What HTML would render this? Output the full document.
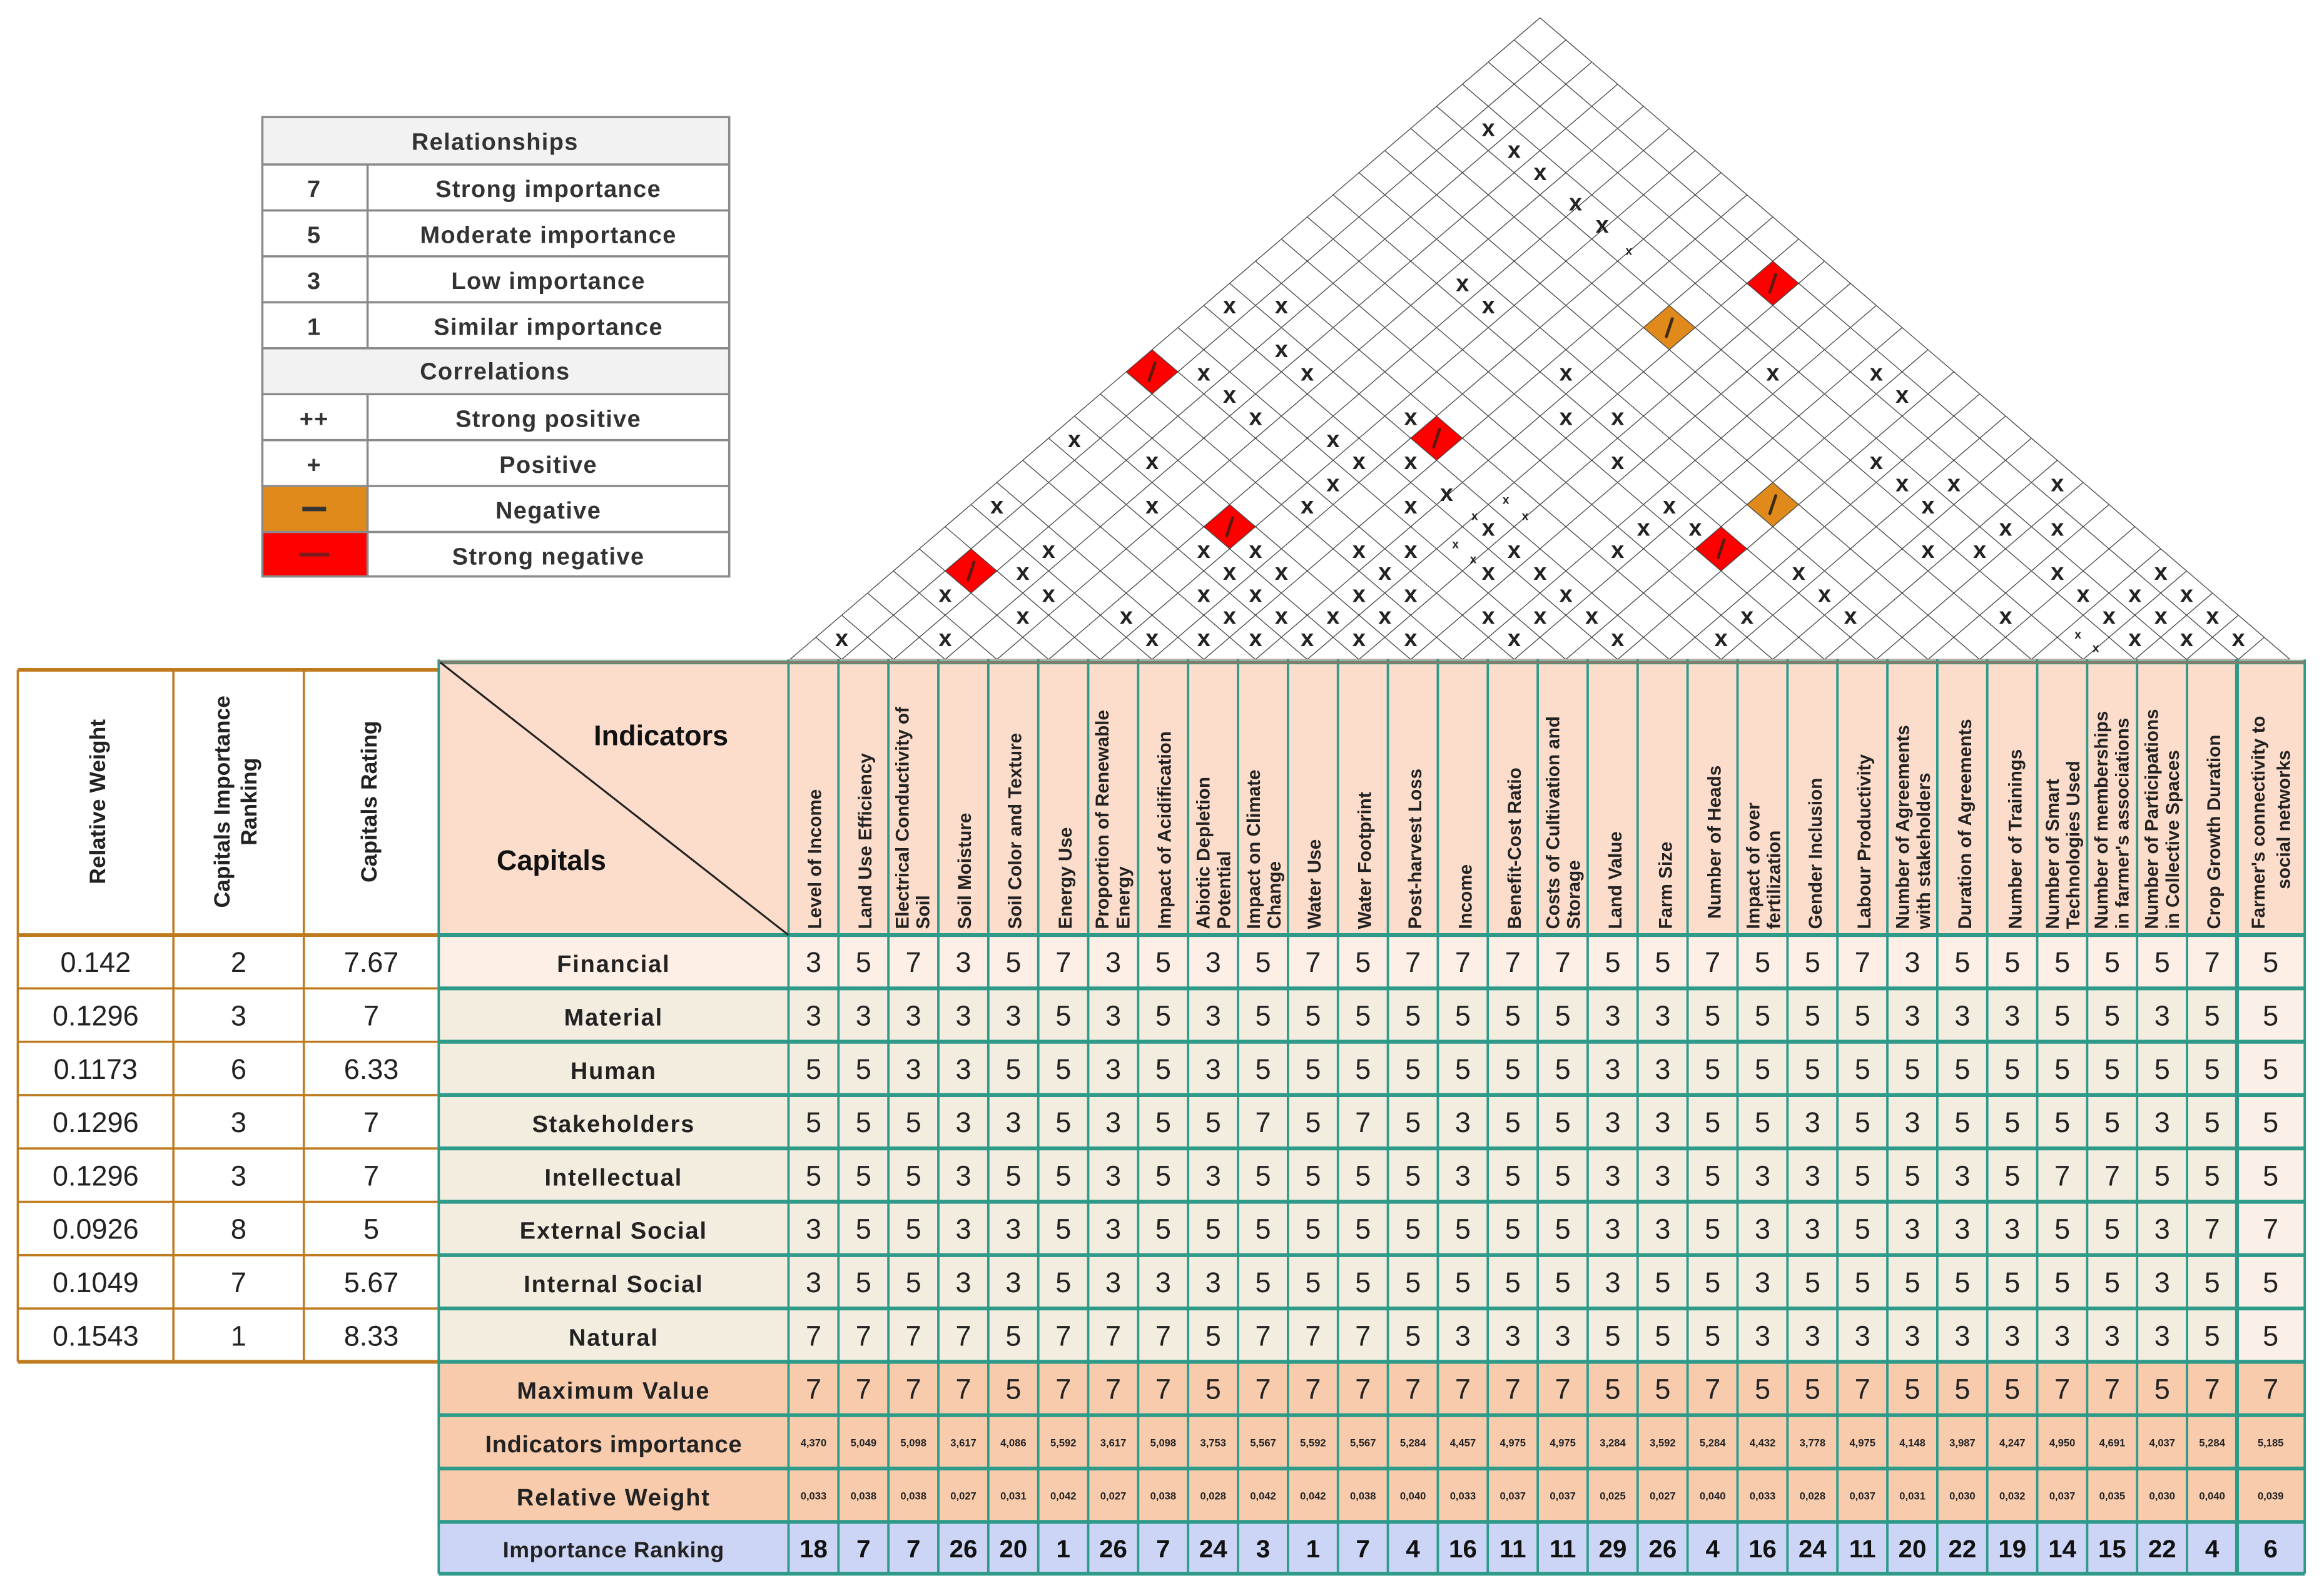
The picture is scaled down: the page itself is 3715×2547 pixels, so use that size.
<!DOCTYPE html>
<html><head><meta charset="utf-8"><style>
html,body{margin:0;padding:0;background:#fff}
svg{display:block}
text{font-family:"Liberation Sans",sans-serif}
.lg{font-weight:bold;font-size:16px;fill:#333;letter-spacing:0.6px;text-anchor:middle}
.rot{font-weight:bold;font-size:15px;fill:#222;text-anchor:middle}
.lv{font-size:19px;fill:#222;text-anchor:middle}
.cap{font-weight:bold;font-size:16px;fill:#222;text-anchor:middle;letter-spacing:0.8px}
.ind{font-weight:bold;font-size:12.5px;fill:#222}
.num{font-size:19px;fill:#222;text-anchor:middle}
.sm{font-weight:bold;font-size:7px;fill:#222;text-anchor:middle}
.rk{font-weight:bold;font-size:17px;fill:#111;text-anchor:middle}
.xm{font-weight:bold;font-size:16px;fill:#222;text-anchor:middle}
</style></head><body>
<svg width="3715" height="2547" viewBox="0 0 1568 1075" preserveAspectRatio="none" xmlns="http://www.w3.org/2000/svg">
<rect width="1568" height="1075" fill="#fff"/>

<!-- Legend -->
<g>
<rect x="177" y="79" width="315" height="32" fill="#f2f2f2"/>
<rect x="177" y="235" width="315" height="31" fill="#f2f2f2"/>
<rect x="177" y="328" width="71" height="31" fill="#e08a1c"/>
<rect x="177" y="359" width="71" height="30" fill="#ff0000"/>
<g stroke="#8a8a8a" stroke-width="1.5" fill="none">
<rect x="177" y="79" width="315" height="310"/>
<path d="M177 111H492M177 142H492M177 173H492M177 204H492M177 235H492M177 266H492M177 297H492M177 328H492M177 359H492M248 111V235M248 266V389"/>
</g>
<text class="lg" x="334" y="101">Relationships</text>
<text class="lg" x="212" y="133">7</text><text class="lg" x="370" y="133">Strong importance</text>
<text class="lg" x="212" y="164">5</text><text class="lg" x="370" y="164">Moderate importance</text>
<text class="lg" x="212" y="195">3</text><text class="lg" x="370" y="195">Low importance</text>
<text class="lg" x="212" y="226">1</text><text class="lg" x="370" y="226">Similar importance</text>
<text class="lg" x="334" y="256">Correlations</text>
<text class="lg" x="212" y="288">++</text><text class="lg" x="370" y="288">Strong positive</text>
<text class="lg" x="212" y="319">+</text><text class="lg" x="370" y="319">Positive</text>
<rect x="204" y="342" width="16" height="3" fill="#333"/><text class="lg" x="370" y="350">Negative</text>
<rect x="202" y="373" width="20" height="2.5" fill="#7a1a1a"/><text class="lg" x="370" y="381">Strong negative</text>
</g>

<!-- Roof -->
<g transform="translate(533,445) scale(17.45,-14.93)">
<g fill="#ff0000">
<polygon stroke="#b00" stroke-width="0.8" vector-effect="non-scaling-stroke" points="13,13 14,14 15,13 14,12"/>
<polygon stroke="#b00" stroke-width="0.8" vector-effect="non-scaling-stroke" points="24,10 25,11 26,10 25,9"/>
<polygon stroke="#b00" stroke-width="0.8" vector-effect="non-scaling-stroke" points="16,6 17,7 18,6 17,5"/>
<polygon stroke="#b00" stroke-width="0.8" vector-effect="non-scaling-stroke" points="6,4 7,5 8,4 7,3"/>
<polygon stroke="#b00" stroke-width="0.8" vector-effect="non-scaling-stroke" points="35,5 36,6 37,5 36,4"/>
<polygon stroke="#b00" stroke-width="0.8" vector-effect="non-scaling-stroke" points="37,17 38,18 39,17 38,16"/>
</g>
<g fill="#e08a1c">
<polygon stroke="#a86010" stroke-width="0.8" vector-effect="non-scaling-stroke" points="33,15 34,16 35,15 34,14"/>
<polygon stroke="#a86010" stroke-width="0.8" vector-effect="non-scaling-stroke" points="37,7 38,8 39,7 38,6"/>
</g>
<path fill="none" stroke="#444" stroke-width="1.3" vector-effect="non-scaling-stroke" d="M0 0H58
M0 0L29 29M2 0L30 28M4 0L31 27M6 0L32 26M8 0L33 25M10 0L34 24M12 0L35 23M14 0L36 22M16 0L37 21M18 0L38 20M20 0L39 19M22 0L40 18M24 0L41 17M26 0L42 16M28 0L43 15M30 0L44 14M32 0L45 13M34 0L46 12M36 0L47 11M38 0L48 10M40 0L49 9M42 0L50 8M44 0L51 7M46 0L52 6M48 0L53 5M50 0L54 4M52 0L55 3M54 0L56 2M56 0L57 1
M2 0L1 1M4 0L2 2M6 0L3 3M8 0L4 4M10 0L5 5M12 0L6 6M14 0L7 7M16 0L8 8M18 0L9 9M20 0L10 10M22 0L11 11M24 0L12 12M26 0L13 13M28 0L14 14M30 0L15 15M32 0L16 16M34 0L17 17M36 0L18 18M38 0L19 19M40 0L20 20M42 0L21 21M44 0L22 22M46 0L23 23M48 0L24 24M50 0L25 25M52 0L26 26M54 0L27 27M56 0L28 28M58 0L29 29"/>
</g>
<g stroke="#5a1a10" stroke-width="2" stroke-linecap="round" fill="none">
<path d="M775.3 256.9L779.3 244.9M967.3 301.7L971.3 289.7M827.7 361.4L831.7 349.4M653.2 391.3L657.2 379.3M1159.2 376.4L1163.2 364.4M1194.1 197.2L1198.1 185.2"/>
<path stroke="#3a2a10" d="M1124.3 227.1L1128.3 215.1M1194.1 346.5L1198.1 334.5"/>
</g>
<g>
<g class="xm">
<text class="xm" x="864.6" y="241.0">x</text>
<text class="xm" x="812.2" y="256.9">x</text>
<text class="xm" x="882.0" y="256.9">x</text>
<text class="xm" x="829.6" y="271.8">x</text>
<text class="xm" x="847.1" y="286.7">x</text>
<text class="xm" x="951.8" y="286.7">x</text>
<text class="xm" x="724.9" y="301.7">x</text>
<text class="xm" x="899.4" y="301.7">x</text>
<text class="xm" x="777.3" y="316.6">x</text>
<text class="xm" x="916.9" y="316.6">x</text>
<text class="xm" x="951.8" y="316.6">x</text>
<text class="xm" x="899.4" y="331.6">x</text>
<text class="xm" x="672.6" y="346.5">x</text>
<text class="xm" x="777.3" y="346.5">x</text>
<text class="xm" x="882.0" y="346.5">x</text>
<text class="xm" x="951.8" y="346.5">x</text>
<text class="xm" x="1004.2" y="361.4">x</text>
<text class="xm" x="707.5" y="376.4">x</text>
<text class="xm" x="812.2" y="376.4">x</text>
<text class="xm" x="847.1" y="376.4">x</text>
<text class="xm" x="916.9" y="376.4">x</text>
<text class="xm" x="951.8" y="376.4">x</text>
<text class="xm" x="1021.6" y="376.4">x</text>
<text class="xm" x="690.1" y="391.3">x</text>
<text class="xm" x="829.6" y="391.3">x</text>
<text class="xm" x="864.6" y="391.3">x</text>
<text class="xm" x="934.4" y="391.3">x</text>
<text class="xm" x="1004.2" y="391.3">x</text>
<text class="xm" x="1039.1" y="391.3">x</text>
<text class="xm" x="637.7" y="406.2">x</text>
<text class="xm" x="707.5" y="406.2">x</text>
<text class="xm" x="812.2" y="406.2">x</text>
<text class="xm" x="847.1" y="406.2">x</text>
<text class="xm" x="916.9" y="406.2">x</text>
<text class="xm" x="951.8" y="406.2">x</text>
<text class="xm" x="1056.5" y="406.2">x</text>
<text class="xm" x="690.1" y="421.1">x</text>
<text class="xm" x="759.9" y="421.1">x</text>
<text class="xm" x="829.6" y="421.1">x</text>
<text class="xm" x="864.6" y="421.1">x</text>
<text class="xm" x="899.4" y="421.1">x</text>
<text class="xm" x="934.4" y="421.1">x</text>
<text class="xm" x="1004.2" y="421.1">x</text>
<text class="xm" x="1039.1" y="421.1">x</text>
<text class="xm" x="567.9" y="436.1">x</text>
<text class="xm" x="637.7" y="436.1">x</text>
<text class="xm" x="777.3" y="436.1">x</text>
<text class="xm" x="812.2" y="436.1">x</text>
<text class="xm" x="847.1" y="436.1">x</text>
<text class="xm" x="882.0" y="436.1">x</text>
<text class="xm" x="916.9" y="436.1">x</text>
<text class="xm" x="951.8" y="436.1">x</text>
<text class="xm" x="1021.6" y="436.1">x</text>
<text class="xm" x="1056.5" y="286.7">x</text>
<text class="xm" x="1056.5" y="256.9">x</text>
<text class="xm" x="1196.1" y="256.9">x</text>
<text class="xm" x="1265.9" y="256.9">x</text>
<text class="xm" x="1283.4" y="271.8">x</text>
<text class="xm" x="1091.4" y="286.7">x</text>
<text class="xm" x="1091.4" y="316.6">x</text>
<text class="xm" x="1265.9" y="316.6">x</text>
<text class="xm" x="1283.4" y="331.6">x</text>
<text class="xm" x="1318.3" y="331.6">x</text>
<text class="xm" x="1388.1" y="331.6">x</text>
<text class="xm" x="1126.3" y="346.5">x</text>
<text class="xm" x="1300.8" y="346.5">x</text>
<text class="xm" x="1108.9" y="361.4">x</text>
<text class="xm" x="1143.8" y="361.4">x</text>
<text class="xm" x="1353.2" y="361.4">x</text>
<text class="xm" x="1388.1" y="361.4">x</text>
<text class="xm" x="1091.4" y="376.4">x</text>
<text class="xm" x="1300.8" y="376.4">x</text>
<text class="xm" x="1335.7" y="376.4">x</text>
<text class="xm" x="1213.6" y="391.3">x</text>
<text class="xm" x="1388.1" y="391.3">x</text>
<text class="xm" x="1457.9" y="391.3">x</text>
<text class="xm" x="1231.0" y="406.2">x</text>
<text class="xm" x="1405.5" y="406.2">x</text>
<text class="xm" x="1440.4" y="406.2">x</text>
<text class="xm" x="1475.3" y="406.2">x</text>
<text class="xm" x="1074.0" y="421.1">x</text>
<text class="xm" x="1178.7" y="421.1">x</text>
<text class="xm" x="1248.5" y="421.1">x</text>
<text class="xm" x="1353.2" y="421.1">x</text>
<text class="xm" x="1423.0" y="421.1">x</text>
<text class="xm" x="1457.9" y="421.1">x</text>
<text class="xm" x="1492.8" y="421.1">x</text>
<text class="xm" x="1091.4" y="436.1">x</text>
<text class="xm" x="1161.2" y="436.1">x</text>
<text class="xm" x="1440.4" y="436.1">x</text>
<text class="xm" x="1475.3" y="436.1">x</text>
<text class="xm" x="1510.2" y="436.1">x</text>
<text class="xm" x="1004.2" y="91.7">x</text>
<text class="xm" x="1021.6" y="106.6">x</text>
<text class="xm" x="1039.1" y="121.5">x</text>
<text class="xm" x="1063" y="142">x</text>
<text class="xm" x="1081" y="157">x</text>
<text class="xm" x="986.7" y="196.4">x</text>
<text class="xm" x="1004.2" y="211.4">x</text>
<text class="xm" x="829.6" y="211.4">x</text>
<text class="xm" x="864.6" y="211.4">x</text>
<text class="xm" x="976" y="338">x</text>
<text class="xm" x="1099" y="172" style="font-size:8px">x</text>
<text class="xm" x="1016" y="340" style="font-size:8px">x</text>
<text class="xm" x="995" y="351" style="font-size:8px">x</text>
<text class="xm" x="1029" y="351" style="font-size:8px">x</text>
<text class="xm" x="982" y="370" style="font-size:8px">x</text>
<text class="xm" x="994" y="380" style="font-size:8px">x</text>
<text class="xm" x="1402" y="431" style="font-size:8px">x</text>
<text class="xm" x="1414" y="440" style="font-size:8px">x</text>
</g>
</g>

<!-- Left table -->
<g>
<rect x="12" y="452" width="284" height="467" fill="#fff"/>
<g stroke="#c07a1e" fill="none">
<path stroke-width="2.5" d="M12 452H296M12 631H296M12 919H296"/>
<path stroke-width="1.5" d="M12 452V919M117 452V919M205 452V919M12 667H296M12 703H296M12 739H296M12 775H296M12 811H296M12 847H296M12 883H296"/>
</g>
<text class="rot" transform="translate(71,541) rotate(-90)">Relative Weight</text>
<text class="rot" transform="translate(155,541) rotate(-90)">Capitals Importance</text>
<text class="rot" transform="translate(173,541) rotate(-90)">Ranking</text>
<text class="rot" transform="translate(254,541) rotate(-90)">Capitals Rating</text>
<text class="lv" x="64.5" y="656">0.142</text><text class="lv" x="161" y="656">2</text><text class="lv" x="250.5" y="656">7.67</text>
<text class="lv" x="64.5" y="692">0.1296</text><text class="lv" x="161" y="692">3</text><text class="lv" x="250.5" y="692">7</text>
<text class="lv" x="64.5" y="728">0.1173</text><text class="lv" x="161" y="728">6</text><text class="lv" x="250.5" y="728">6.33</text>
<text class="lv" x="64.5" y="764">0.1296</text><text class="lv" x="161" y="764">3</text><text class="lv" x="250.5" y="764">7</text>
<text class="lv" x="64.5" y="800">0.1296</text><text class="lv" x="161" y="800">3</text><text class="lv" x="250.5" y="800">7</text>
<text class="lv" x="64.5" y="836">0.0926</text><text class="lv" x="161" y="836">8</text><text class="lv" x="250.5" y="836">5</text>
<text class="lv" x="64.5" y="872">0.1049</text><text class="lv" x="161" y="872">7</text><text class="lv" x="250.5" y="872">5.67</text>
<text class="lv" x="64.5" y="908">0.1543</text><text class="lv" x="161" y="908">1</text><text class="lv" x="250.5" y="908">8.33</text>
</g>

<!-- Main table backgrounds -->
<rect x="296" y="445" width="1259" height="186" fill="#fcdccb"/>
<rect x="296" y="631" width="1259" height="36" fill="#fdeee6"/>
<rect x="296" y="667" width="1259" height="252" fill="#f3eddf"/>
<rect x="1509" y="667" width="46" height="252" fill="#fbf0e8"/>
<rect x="296" y="919" width="1259" height="108" fill="#f8cbad"/>
<rect x="296" y="1027" width="1259" height="35" fill="#ccd5f5"/>
<g stroke="#2e9a8a" fill="none">
<path stroke-width="1.6" d="M296 445V1062M532 445V1062M565.7 445V1062M599.4 445V1062M633.1 445V1062M666.8 445V1062M700.5 445V1062M734.2 445V1062M767.9 445V1062M801.6 445V1062M835.3 445V1062M869 445V1062M902.7 445V1062M936.4 445V1062M970.1 445V1062M1003.8 445V1062M1037.5 445V1062M1071.2 445V1062M1104.9 445V1062M1138.6 445V1062M1172.3 445V1062M1206 445V1062M1239.7 445V1062M1273.4 445V1062M1307.1 445V1062M1340.8 445V1062M1374.5 445V1062M1408.2 445V1062M1441.9 445V1062M1475.6 445V1062M1555 445V1062"/>
<path stroke-width="2.6" d="M1509.3 445V1062M296 447H1555M296 631H1555M296 667H1555M296 703H1555M296 739H1555M296 775H1555M296 811H1555M296 847H1555M296 883H1555M296 919H1555M296 955H1555M296 991H1555M296 1027H1555M296 1062H1555"/>
</g>
<path d="M296 447H1555" stroke="#8a7a6a" stroke-width="1.5"/>
<line x1="297" y1="447" x2="532" y2="631" stroke="#222" stroke-width="1.3"/>
<text x="446" y="503" style="font-weight:bold;font-size:19px;fill:#111" text-anchor="middle">Indicators</text>
<text x="372" y="587" style="font-weight:bold;font-size:19px;fill:#111" text-anchor="middle">Capitals</text>

<!-- Indicator labels -->
<g class="ind">
<text transform="translate(554,627) rotate(-90)">Level of Income</text>
<text transform="translate(588,627) rotate(-90)">Land Use Efficiency</text>
<text transform="translate(613,627) rotate(-90)">Electrical Conductivity of</text>
<text transform="translate(627,627) rotate(-90)">Soil</text>
<text transform="translate(655,627) rotate(-90)">Soil Moisture</text>
<text transform="translate(689,627) rotate(-90)">Soil Color and Texture</text>
<text transform="translate(723,627) rotate(-90)">Energy Use</text>
<text transform="translate(748,627) rotate(-90)">Proportion of Renewable</text>
<text transform="translate(762,627) rotate(-90)">Energy</text>
<text transform="translate(790,627) rotate(-90)">Impact of Acidification</text>
<text transform="translate(816,627) rotate(-90)">Abiotic Depletion</text>
<text transform="translate(830,627) rotate(-90)">Potential</text>
<text transform="translate(850,627) rotate(-90)">Impact on Climate</text>
<text transform="translate(864,627) rotate(-90)">Change</text>
<text transform="translate(891,627) rotate(-90)">Water Use</text>
<text transform="translate(925,627) rotate(-90)">Water Footprint</text>
<text transform="translate(959,627) rotate(-90)">Post-harvest Loss</text>
<text transform="translate(993,627) rotate(-90)">Income</text>
<text transform="translate(1026,627) rotate(-90)">Benefit-Cost Ratio</text>
<text transform="translate(1052,627) rotate(-90)">Costs of Cultivation and</text>
<text transform="translate(1066,627) rotate(-90)">Storage</text>
<text transform="translate(1094,627) rotate(-90)">Land Value</text>
<text transform="translate(1128,627) rotate(-90)">Farm Size</text>
<text transform="translate(1161,620) rotate(-90)">Number of Heads</text>
<text transform="translate(1187,627) rotate(-90)">Impact of over</text>
<text transform="translate(1201,627) rotate(-90)">fertilization</text>
<text transform="translate(1229,627) rotate(-90)">Gender Inclusion</text>
<text transform="translate(1262,627) rotate(-90)">Labour Productivity</text>
<text transform="translate(1288,627) rotate(-90)">Number of Agreements</text>
<text transform="translate(1302,627) rotate(-90)">with stakeholders</text>
<text transform="translate(1330,627) rotate(-90)">Duration of Agreements</text>
<text transform="translate(1364,627) rotate(-90)">Number of Trainings</text>
<text transform="translate(1389,627) rotate(-90)">Number of Smart</text>
<text transform="translate(1403,627) rotate(-90)">Technologies Used</text>
<text transform="translate(1422,627) rotate(-90)">Number of memberships</text>
<text transform="translate(1436,627) rotate(-90)">in farmer's associations</text>
<text transform="translate(1456,627) rotate(-90)">Number of Participations</text>
<text transform="translate(1470,627) rotate(-90)">in Collective Spaces</text>
<text transform="translate(1498,627) rotate(-90)">Crop Growth Duration</text>
<text transform="translate(1528,627) rotate(-90)">Farmer's connectivity to</text>
<text transform="translate(1545,600) rotate(-90)">social networks</text>
</g>

<!-- Capitals names -->
<text class="cap" x="414" y="656">Financial</text>
<text class="cap" x="414" y="692">Material</text>
<text class="cap" x="414" y="728">Human</text>
<text class="cap" x="414" y="764">Stakeholders</text>
<text class="cap" x="414" y="800">Intellectual</text>
<text class="cap" x="414" y="836">External Social</text>
<text class="cap" x="414" y="872">Internal Social</text>
<text class="cap" x="414" y="908">Natural</text>
<text class="cap" x="414" y="944">Maximum Value</text>
<text class="cap" x="414" y="980" style="letter-spacing:0.3px">Indicators importance</text>
<text class="cap" x="414" y="1016">Relative Weight</text>
<text class="cap" x="414" y="1051" style="font-size:15px;letter-spacing:0.3px">Importance Ranking</text>

<!-- Numbers -->
<g class="num">
<text class="num" y="656" x="548.9 582.6 616.3 650.0 683.7 717.4 751.1 784.8 818.5 852.2 885.9 919.6 953.3 987.0 1020.7 1054.4 1088.1 1121.8 1155.5 1189.2 1222.9 1256.6 1290.3 1324.0 1357.7 1391.4 1425.1 1458.8 1492.5 1532">357357353575777755755735555575</text>
<text class="num" y="692" x="548.9 582.6 616.3 650.0 683.7 717.4 751.1 784.8 818.5 852.2 885.9 919.6 953.3 987.0 1020.7 1054.4 1088.1 1121.8 1155.5 1189.2 1222.9 1256.6 1290.3 1324.0 1357.7 1391.4 1425.1 1458.8 1492.5 1532">333335353555555533555533355355</text>
<text class="num" y="728" x="548.9 582.6 616.3 650.0 683.7 717.4 751.1 784.8 818.5 852.2 885.9 919.6 953.3 987.0 1020.7 1054.4 1088.1 1121.8 1155.5 1189.2 1222.9 1256.6 1290.3 1324.0 1357.7 1391.4 1425.1 1458.8 1492.5 1532">553355353555555533555555555555</text>
<text class="num" y="764" x="548.9 582.6 616.3 650.0 683.7 717.4 751.1 784.8 818.5 852.2 885.9 919.6 953.3 987.0 1020.7 1054.4 1088.1 1121.8 1155.5 1189.2 1222.9 1256.6 1290.3 1324.0 1357.7 1391.4 1425.1 1458.8 1492.5 1532">555335355757535533553535555355</text>
<text class="num" y="800" x="548.9 582.6 616.3 650.0 683.7 717.4 751.1 784.8 818.5 852.2 885.9 919.6 953.3 987.0 1020.7 1054.4 1088.1 1121.8 1155.5 1189.2 1222.9 1256.6 1290.3 1324.0 1357.7 1391.4 1425.1 1458.8 1492.5 1532">555355353555535533533553577555</text>
<text class="num" y="836" x="548.9 582.6 616.3 650.0 683.7 717.4 751.1 784.8 818.5 852.2 885.9 919.6 953.3 987.0 1020.7 1054.4 1088.1 1121.8 1155.5 1189.2 1222.9 1256.6 1290.3 1324.0 1357.7 1391.4 1425.1 1458.8 1492.5 1532">355335355555555533533533355377</text>
<text class="num" y="872" x="548.9 582.6 616.3 650.0 683.7 717.4 751.1 784.8 818.5 852.2 885.9 919.6 953.3 987.0 1020.7 1054.4 1088.1 1121.8 1155.5 1189.2 1222.9 1256.6 1290.3 1324.0 1357.7 1391.4 1425.1 1458.8 1492.5 1532">355335333555555535535555555355</text>
<text class="num" y="908" x="548.9 582.6 616.3 650.0 683.7 717.4 751.1 784.8 818.5 852.2 885.9 919.6 953.3 987.0 1020.7 1054.4 1088.1 1121.8 1155.5 1189.2 1222.9 1256.6 1290.3 1324.0 1357.7 1391.4 1425.1 1458.8 1492.5 1532">777757775777533355533333333355</text>
<text class="num" y="944" x="548.9 582.6 616.3 650.0 683.7 717.4 751.1 784.8 818.5 852.2 885.9 919.6 953.3 987.0 1020.7 1054.4 1088.1 1121.8 1155.5 1189.2 1222.9 1256.6 1290.3 1324.0 1357.7 1391.4 1425.1 1458.8 1492.5 1532">777757775777777755755755577577</text>
</g>
<g class="sm">
<text class="sm" x="548.9" y="976">4,370</text><text class="sm" x="582.6" y="976">5,049</text><text class="sm" x="616.3" y="976">5,098</text><text class="sm" x="650.0" y="976">3,617</text><text class="sm" x="683.7" y="976">4,086</text><text class="sm" x="717.4" y="976">5,592</text><text class="sm" x="751.1" y="976">3,617</text><text class="sm" x="784.8" y="976">5,098</text><text class="sm" x="818.5" y="976">3,753</text><text class="sm" x="852.2" y="976">5,567</text><text class="sm" x="885.9" y="976">5,592</text><text class="sm" x="919.6" y="976">5,567</text><text class="sm" x="953.3" y="976">5,284</text><text class="sm" x="987.0" y="976">4,457</text><text class="sm" x="1020.7" y="976">4,975</text><text class="sm" x="1054.4" y="976">4,975</text><text class="sm" x="1088.1" y="976">3,284</text><text class="sm" x="1121.8" y="976">3,592</text><text class="sm" x="1155.5" y="976">5,284</text><text class="sm" x="1189.2" y="976">4,432</text><text class="sm" x="1222.9" y="976">3,778</text><text class="sm" x="1256.6" y="976">4,975</text><text class="sm" x="1290.3" y="976">4,148</text><text class="sm" x="1324.0" y="976">3,987</text><text class="sm" x="1357.7" y="976">4,247</text><text class="sm" x="1391.4" y="976">4,950</text><text class="sm" x="1425.1" y="976">4,691</text><text class="sm" x="1458.8" y="976">4,037</text><text class="sm" x="1492.5" y="976">5,284</text><text class="sm" x="1532" y="976">5,185</text>
<text class="sm" x="548.9" y="1012">0,033</text><text class="sm" x="582.6" y="1012">0,038</text><text class="sm" x="616.3" y="1012">0,038</text><text class="sm" x="650.0" y="1012">0,027</text><text class="sm" x="683.7" y="1012">0,031</text><text class="sm" x="717.4" y="1012">0,042</text><text class="sm" x="751.1" y="1012">0,027</text><text class="sm" x="784.8" y="1012">0,038</text><text class="sm" x="818.5" y="1012">0,028</text><text class="sm" x="852.2" y="1012">0,042</text><text class="sm" x="885.9" y="1012">0,042</text><text class="sm" x="919.6" y="1012">0,038</text><text class="sm" x="953.3" y="1012">0,040</text><text class="sm" x="987.0" y="1012">0,033</text><text class="sm" x="1020.7" y="1012">0,037</text><text class="sm" x="1054.4" y="1012">0,037</text><text class="sm" x="1088.1" y="1012">0,025</text><text class="sm" x="1121.8" y="1012">0,027</text><text class="sm" x="1155.5" y="1012">0,040</text><text class="sm" x="1189.2" y="1012">0,033</text><text class="sm" x="1222.9" y="1012">0,028</text><text class="sm" x="1256.6" y="1012">0,037</text><text class="sm" x="1290.3" y="1012">0,031</text><text class="sm" x="1324.0" y="1012">0,030</text><text class="sm" x="1357.7" y="1012">0,032</text><text class="sm" x="1391.4" y="1012">0,037</text><text class="sm" x="1425.1" y="1012">0,035</text><text class="sm" x="1458.8" y="1012">0,030</text><text class="sm" x="1492.5" y="1012">0,040</text><text class="sm" x="1532" y="1012">0,039</text>
</g>
<g class="rk">
<text class="rk" x="548.9" y="1051">18</text><text class="rk" x="582.6" y="1051">7</text><text class="rk" x="616.3" y="1051">7</text><text class="rk" x="650.0" y="1051">26</text><text class="rk" x="683.7" y="1051">20</text><text class="rk" x="717.4" y="1051">1</text><text class="rk" x="751.1" y="1051">26</text><text class="rk" x="784.8" y="1051">7</text><text class="rk" x="818.5" y="1051">24</text><text class="rk" x="852.2" y="1051">3</text><text class="rk" x="885.9" y="1051">1</text><text class="rk" x="919.6" y="1051">7</text><text class="rk" x="953.3" y="1051">4</text><text class="rk" x="987.0" y="1051">16</text><text class="rk" x="1020.7" y="1051">11</text><text class="rk" x="1054.4" y="1051">11</text><text class="rk" x="1088.1" y="1051">29</text><text class="rk" x="1121.8" y="1051">26</text><text class="rk" x="1155.5" y="1051">4</text><text class="rk" x="1189.2" y="1051">16</text><text class="rk" x="1222.9" y="1051">24</text><text class="rk" x="1256.6" y="1051">11</text><text class="rk" x="1290.3" y="1051">20</text><text class="rk" x="1324.0" y="1051">22</text><text class="rk" x="1357.7" y="1051">19</text><text class="rk" x="1391.4" y="1051">14</text><text class="rk" x="1425.1" y="1051">15</text><text class="rk" x="1458.8" y="1051">22</text><text class="rk" x="1492.5" y="1051">4</text><text class="rk" x="1532" y="1051">6</text>
</g>
</svg>
</body></html>
